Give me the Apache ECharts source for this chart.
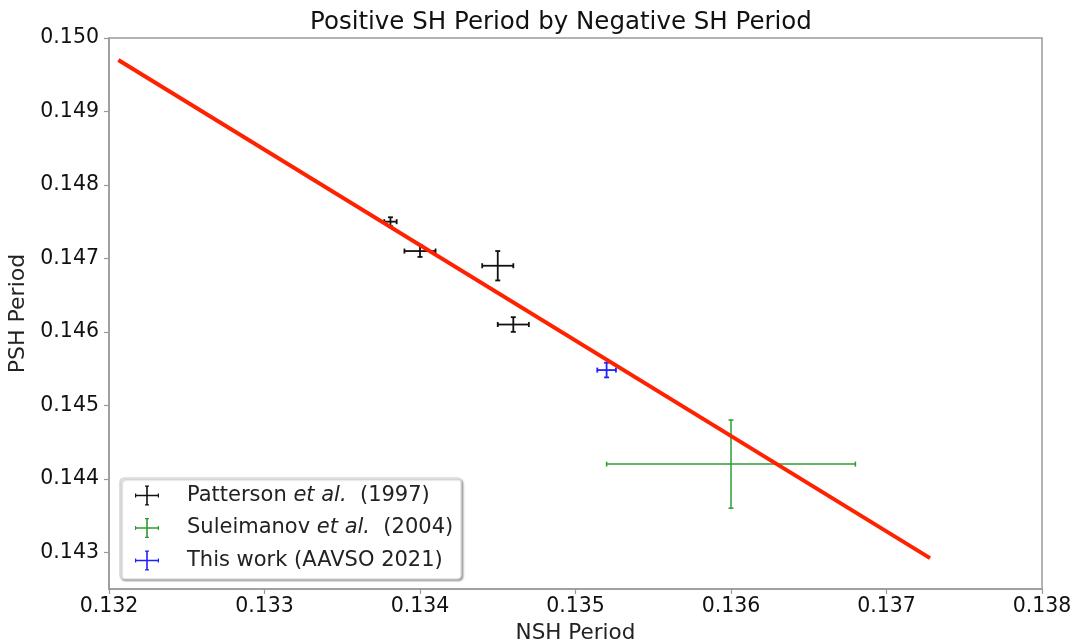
<!DOCTYPE html>
<html>
<head>
<meta charset="utf-8">
<script src="https://cdn.jsdelivr.net/npm/echarts@6/dist/echarts.min.js"></script>
<style>html,body{margin:0;padding:0;background:#fff}#c{width:1077px;height:643px}</style>
</head>
<body>
<div id="c"></div>
<script>
// Data: [NSH period, PSH period, NSH error, PSH error]
const patterson = [
  [0.13381, 0.14750, 0.00004, 0.00006],
  [0.13400, 0.14710, 0.00010, 0.00008],
  [0.13450, 0.14690, 0.00010, 0.00020],
  [0.13460, 0.14610, 0.00010, 0.00010]
];
const suleimanov = [
  [0.13600, 0.14420, 0.00080, 0.00060]
];
const thisWork = [
  [0.13520, 0.14548, 0.00006, 0.00010]
];
const fitLine = [
  [0.13206, 0.14970],
  [0.13728, 0.14292]
];
const xTicks = [0.132, 0.133, 0.134, 0.135, 0.136, 0.137, 0.138];
const yTicks = [0.143, 0.144, 0.145, 0.146, 0.147, 0.148, 0.149, 0.150];
const seriesNames = ['Patterson et al. (1997)', 'Suleimanov et al. (2004)', 'This work (AAVSO 2021)'];
const legendLabels = {
  'Patterson et al. (1997)': '{n|Patterson }{i|et al.}{n|  (1997)}',
  'Suleimanov et al. (2004)': '{n|Suleimanov }{i|et al.}{n|  (2004)}',
  'This work (AAVSO 2021)': '{n|This work (AAVSO 2021)}'
};

const FONT = 'DejaVu Sans';
const plusIcon = 'path://M0,9.2H24V10.8H0Z M11.2,0H12.8V20H11.2Z M0,8H1.2V12H0Z M22.8,8H24V12H22.8Z M10,0H14V1.2H10Z M10,18.8H14V20H10Z';

function errRender(lw) {
  return function (params, api) {
    const x = api.value(0), y = api.value(1), xe = api.value(2), ye = api.value(3);
    const l = api.coord([x - xe, y]);
    const r = api.coord([x + xe, y]);
    const t = api.coord([x, y + ye]);
    const b = api.coord([x, y - ye]);
    const color = api.visual('color');
    const st = {stroke: color, lineWidth: lw};
    const cap = 2.5;
    return {
      type: 'group',
      children: [
        {type: 'line', shape: {x1: l[0], y1: l[1], x2: r[0], y2: r[1]}, style: st},
        {type: 'line', shape: {x1: t[0], y1: t[1], x2: b[0], y2: b[1]}, style: st},
        {type: 'line', shape: {x1: l[0], y1: l[1] - cap, x2: l[0], y2: l[1] + cap}, style: st},
        {type: 'line', shape: {x1: r[0], y1: r[1] - cap, x2: r[0], y2: r[1] + cap}, style: st},
        {type: 'line', shape: {x1: t[0] - cap, y1: t[1], x2: t[0] + cap, y2: t[1]}, style: st},
        {type: 'line', shape: {x1: b[0] - cap, y1: b[1], x2: b[0] + cap, y2: b[1]}, style: st}
      ]
    };
  };
}

const chart = echarts.init(document.getElementById('c'), null, {renderer: 'canvas'});
chart.setOption({
  animation: false,
  backgroundColor: '#fff',
  title: {
    text: 'Positive SH Period by Negative SH Period',
    left: 305, top: 5,
    textStyle: {fontFamily: FONT, fontSize: 24.5, fontWeight: 'normal', color: '#111'}
  },
  grid: {left: 109, right: 35, top: 38, bottom: 54, containLabel: false, outerBoundsMode: 'none',
    show: true, borderColor: '#9a9a9a', borderWidth: 1.5, backgroundColor: 'transparent'},
  xAxis: {
    type: 'value', min: 0.132, max: 0.138, interval: 0.001,
    name: 'NSH Period', nameLocation: 'middle', nameGap: 33,
    nameTextStyle: {fontFamily: FONT, fontSize: 21.5, color: '#222'},
    axisLine: {show: true, lineStyle: {color: '#9a9a9a', width: 1.5}},
    axisTick: {show: true, length: 5, lineStyle: {color: '#9a9a9a', width: 1.2}},
    splitLine: {show: false},
    axisLabel: {fontFamily: FONT, fontSize: 20.5, color: '#111', margin: 7,
      formatter: v => (Math.round(v * 1000) / 1000).toFixed(3)}
  },
  yAxis: {
    type: 'value', min: 0.1425, max: 0.150,
    name: 'PSH Period', nameLocation: 'middle', nameGap: 76, nameRotate: 90,
    nameTextStyle: {fontFamily: FONT, fontSize: 22, color: '#222'},
    axisLine: {show: true, lineStyle: {color: '#9a9a9a', width: 1.5}},
    axisTick: {show: true, length: 5, customValues: yTicks, lineStyle: {color: '#9a9a9a', width: 1.2}},
    splitLine: {show: false},
    axisLabel: {fontFamily: FONT, fontSize: 20.5, color: '#111', margin: 10, customValues: yTicks,
      formatter: v => (Math.round(v * 1000) / 1000).toFixed(3)}
  },
  legend: {
    orient: 'vertical', left: 120, top: 478,
    padding: [7, 8, 8, 15],
    itemWidth: 24, itemHeight: 20, itemGap: 11.5,
    backgroundColor: '#fff', borderColor: '#cfcfcf', borderWidth: 1.2, borderRadius: 4,
    shadowColor: 'rgba(0,0,0,0.35)', shadowBlur: 2, shadowOffsetX: 1.5, shadowOffsetY: 1.5,
    data: seriesNames.map(n => ({name: n, icon: plusIcon})),
    formatter: n => legendLabels[n],
    textStyle: {
      fontFamily: FONT, fontSize: 21, color: '#222', padding: [0, 0, 0, 23],
      rich: {
        n: {fontFamily: FONT, fontSize: 21, color: '#222'},
        i: {fontFamily: FONT, fontSize: 21, color: '#222', fontStyle: 'italic'}
      }
    }
  },
  series: [
    {
      type: 'line', name: 'fit', data: fitLine, symbol: 'none', z: 3,
      lineStyle: {color: '#ff2200', width: 4}, itemStyle: {color: '#ff2200'}
    },
    {
      type: 'custom', name: seriesNames[0], data: patterson, renderItem: errRender(1.8),
      encode: {x: 0, y: 1}, itemStyle: {color: '#111111'}, z: 2
    },
    {
      type: 'custom', name: seriesNames[1], data: suleimanov, renderItem: errRender(1.5),
      encode: {x: 0, y: 1}, itemStyle: {color: '#2e9c2e'}, z: 2
    },
    {
      type: 'custom', name: seriesNames[2], data: thisWork, renderItem: errRender(1.8),
      encode: {x: 0, y: 1}, itemStyle: {color: '#2020ff'}, z: 2
    }
  ]
});
</script>
</body>
</html>
